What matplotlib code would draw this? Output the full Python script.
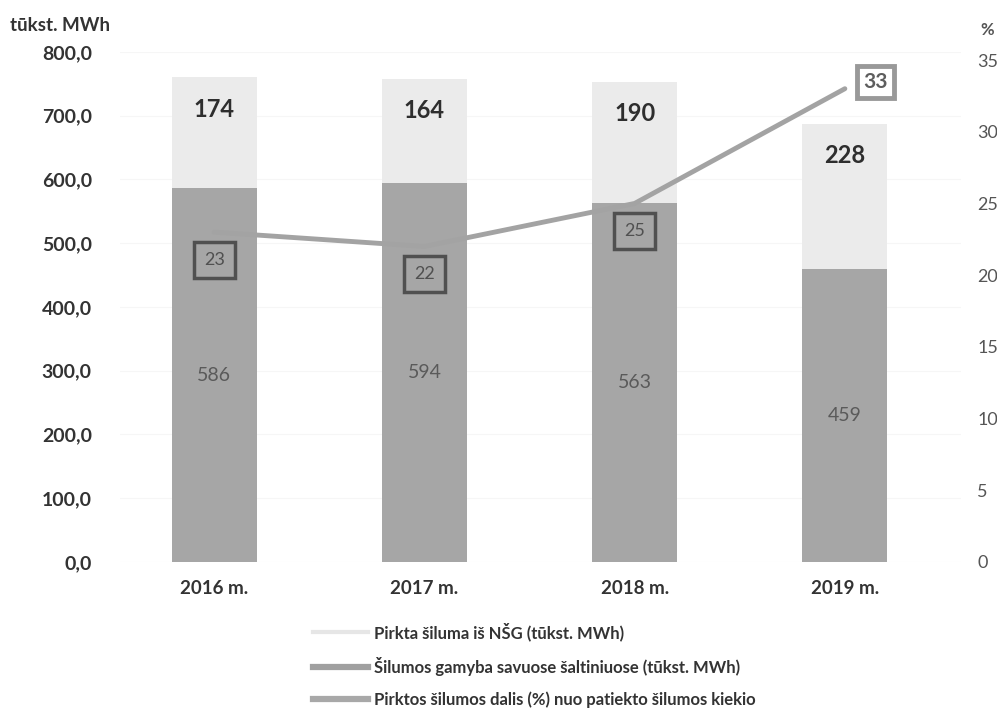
import matplotlib
matplotlib.use("Agg")
import matplotlib.pyplot as plt
from matplotlib.lines import Line2D

plt.rcParams['font.family'] = ['Lato', 'DejaVu Sans']

years = ["2016 m.", "2017 m.", "2018 m.", "2019 m."]
own_production = [586, 594, 563, 459]
purchased = [174, 164, 190, 228]
purchased_share = [23, 22, 25, 33]
left_ticks = [0, 100, 200, 300, 400, 500, 600, 700, 800]
right_ticks = [0, 5, 10, 15, 20, 25, 30, 35]

legend_labels = [
    "Pirkta šiluma iš NŠG (tūkst. MWh)",
    "Šilumos gamyba savuose šaltiniuose (tūkst. MWh)",
    "Pirktos šilumos dalis (%) nuo patiekto šilumos kiekio",
]

c_light = "#ebebeb"
c_dark = "#a6a6a6"
c_line = "#a3a3a3"

fig = plt.figure(figsize=(9.97, 7.17), dpi=100)
ax = fig.add_axes([0.1199, 0.2162, 0.8435, 0.7113])
x = list(range(len(years)))
w = 0.405

ax.bar(x, own_production, width=w, color=c_dark, zorder=2)
ax.bar(x, purchased, width=w, bottom=own_production, color=c_light, zorder=2)

ax.set_xlim(-0.45, 3.55)
ax.set_ylim(0, 800)
ax.set_yticks(left_ticks)
ax.set_yticklabels([f"{v:.1f}".replace(".", ",") for v in left_ticks],
                   fontsize=14, fontweight="bold", color="#333333")
ax.set_xticks(x)
ax.set_xticklabels(years, fontsize=13.5, fontweight="bold", color="#333333")
ax.tick_params(axis="both", length=0)
ax.tick_params(axis="y", pad=20)
ax.tick_params(axis="x", pad=13)
for s in ax.spines.values():
    s.set_visible(False)
ax.grid(axis="y", color="#f6f6f6", lw=0.8, zorder=0)
ax.set_axisbelow(True)

for i in x:
    ax.text(i, own_production[i] / 2, str(own_production[i]), ha="center", va="center",
            fontsize=14, color="#5a5a5a", zorder=4)
    top = own_production[i] + purchased[i]
    ax.text(i, top - 50, str(purchased[i]), ha="center", va="center",
            fontsize=17, fontweight="bold", color="#2e2e2e", zorder=4)

ax2 = ax.twinx()
ax2.set_ylim(0, 35.56)
ax2.set_yticks(right_ticks)
ax2.set_yticklabels([str(v) for v in right_ticks], fontsize=13, color="#555555")
ax2.tick_params(axis="y", length=0, pad=12)
for s in ax2.spines.values():
    s.set_visible(False)
ax2.plot(x, purchased_share, color=c_line, lw=3.5, zorder=5, solid_capstyle="round")

for i in x:
    if i < 3:
        ax2.annotate(str(purchased_share[i]), (i, purchased_share[i]), xytext=(0, -20),
                     textcoords="offset points", ha="center", va="center",
                     fontsize=13, color="#505050", zorder=6,
                     bbox=dict(boxstyle="square,pad=0.55", fc=c_dark, ec="#505050", lw=2.5))
    else:
        ax2.annotate(str(purchased_share[i]), (i, purchased_share[i]), xytext=(22, 5),
                     textcoords="offset points", ha="center", va="center",
                     fontsize=15, fontweight="bold", color="#5e5e5e", zorder=6,
                     bbox=dict(boxstyle="square,pad=0.3", fc="white", ec="#999999", lw=3.5))

fig.text(0.010, 0.965, "tūkst. MWh", fontsize=13.5, fontweight="bold", color="#333333",
         ha="left", va="center")
fig.text(0.983, 0.958, "%", fontsize=12, fontweight="bold", color="#555555",
         ha="left", va="center")

handles = [
    Line2D([], [], color="#e6e6e6", lw=3),
    Line2D([], [], color="#a0a0a0", lw=4.5),
    Line2D([], [], color="#a8a8a8", lw=4.5),
]
fig.legend(handles, legend_labels, loc="upper left", bbox_to_anchor=(0.314, 0.132),
           frameon=False, ncol=1, handlelength=3.3, handletextpad=0.35,
           labelspacing=0.95, borderpad=0, borderaxespad=0,
           prop=dict(weight="bold", size=12), labelcolor="#333333")

fig.savefig("out.png", dpi=100)
